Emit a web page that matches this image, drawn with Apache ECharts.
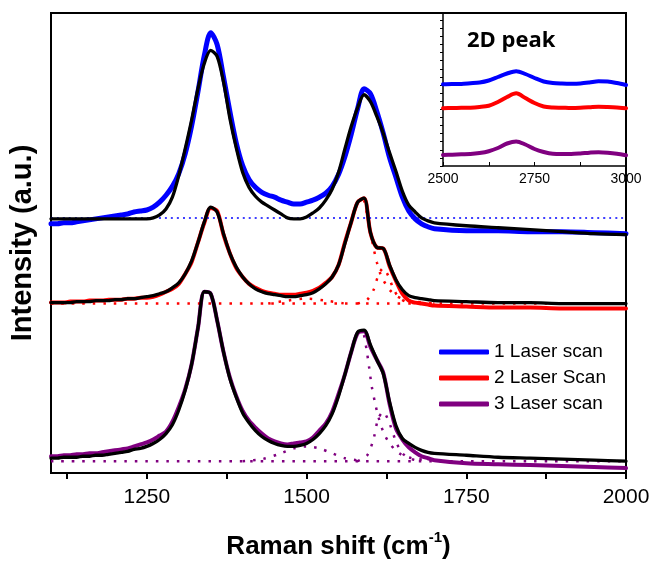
<!DOCTYPE html>
<html>
<head>
<meta charset="utf-8">
<script src="https://cdn.jsdelivr.net/npm/echarts@6/dist/echarts.min.js"></script>
<style>
html,body{margin:0;padding:0;background:#fff;}
#c{width:655px;height:565px;}
</style>
</head>
<body>
<div id="c"></div>
<script>
// ---------- main panel data (Raman shift, cm-1) ----------
const xMain = [1100,1110,1120,1130,1140,1150,1160,1170,1180,1190,
1200,1210,1220,1230,1240,1250,1260,1270,1280,1290,
1300,1310,1320,1330,1340,1350,1360,1370,1380,1390,
1400,1410,1420,1430,1440,1450,1460,1470,1480,1490,
1500,1510,1520,1530,1540,1550,1560,1570,1580,1590,
1600,1610,1620,1630,1640,1650,1660,1670,1680,1690,
1700,1750,1800,1850,1900,1950,2000];

const blueScan = [253,253,254,254,255,256,257,258,259,260,
261,262,263,265,266,267,270,275,282,291,
304,324,352,387,424,447,435,402,367,335,
312,298,290,285,282,280,277,275,273,273,
275,277,280,284,291,303,321,344,370,390,
385,367,345,320,300,280,266,258,253,250,
248,246,246,245,245,244,243];
const blueFit = [258,258,258,258,258,258,258,258,258,258,
258,258,258,258,258,258,259,262,268,280,
302,329,358,390,416,429,423,397,360,330,
305,290,281,275,271,267,263,259,258,258,
260,264,269,277,288,305,329,352,371,384,
377,362,345,325,306,286,272,265,259,256,
254,251,249,247,245,243,242];
const blueBaseX = [1100,2000];
const blueBaseY = [259,259];

const redScan = [173,173,173,174,174,174,175,175,175,176,
176,176,177,177,178,178,179,181,184,187,
192,202,214,234,254,269,266,242,223,208,
199,192,188,185,183,182,181,181,181,182,
183,185,188,193,199,211,234,255,275,279,
244,229,228,210,195,182,175,173,172,171,
170,169,168,168,167,167,167];
const redFit = [173,173,173,173,174,174,174,175,175,175,
176,176,177,177,178,179,180,182,184,188,
193,202,215,234,255,270,265,243,223,209,
199,192,187,184,182,181,180,179,179,180,
181,183,187,192,199,211,233,255,275,279,
244,229,228,211,196,186,180,178,177,176,
175,174,173,173,172,172,172];
const redBaseX = [1100,2000];
const redBaseY = [172,172];
const redD3X = [1440,1470,1500,1530,1560];
const redD3Y = [172,175,177,175,172];
const redGX = [1590,1595,1600,1605,1610,1615,1620,1630,1640,1650,1670,1700];
const redGY = [277,262,245,228,214,203,196,186,180,177,174,172];
const redD2X = [1580,1595,1605,1612,1620,1628,1636,1645,1660,1700];
const redD2Y = [172,176,186,200,208,200,187,178,173,172];

const purpleScan = [17,17,18,18,19,19,20,20,21,22,
23,24,25,27,29,31,34,38,42,52,
67,85,110,147,184,182,155,123,97,78,
63,53,46,40,35,32,30,29,30,31,
32,36,43,50,62,80,100,123,142,144,
128,115,102,70,45,34,26,21,17,15,
13,10,9,8,7,6,5];
const purpleFit = [15,15,16,16,16,17,17,18,18,19,
20,21,22,24,25,27,30,34,40,49,
64,84,110,147,184,182,155,123,96,77,
61,51,43,37,33,30,28,27,27,28,
30,34,40,48,60,78,100,123,143,145,
130,115,101,72,48,35,30,26,23,21,
20,18,16,15,14,13,12];
const purpleBaseX = [1100,2000];
const purpleBaseY = [12,12];
const purpleD3X = [1400,1430,1460,1480,1500,1520,1540,1560,1590];
const purpleD3Y = [12,14,20,25,27,25,20,15,12];
const purpleGX = [1590,1594,1598,1602,1607,1612,1620,1630,1645,1665,1700];
const purpleGY = [140,125,107,88,72,58,42,30,20,15,13];
const purpleD2X = [1580,1595,1605,1612,1620,1630,1640,1650,1665,1680];
const purpleD2Y = [12,18,35,55,62,50,32,20,14,12];

// ---------- inset (2D peak) data ----------
const xInset = [2500,2525,2550,2575,2600,2625,2650,2675,2700,2725,2750,2775,2800,2825,2850,2875,2900,2925,2950,2975,3000];
const blueInset = [81.7,82,82,82.7,83.5,85.5,89,92.5,94.8,92,88,84.5,83,82.5,82.3,82.5,83.5,84.8,84.5,83,81];
const redInset = [57.7,58,58.2,58.3,59,60.3,64,69,72.7,68,63,59.5,58.5,58.3,58,58.2,58.7,59.3,59,58.5,57.7];
const purpleInset = [11,11.3,11.7,12,13,14.8,18,22.5,24.5,21.5,17,14,12.2,12,12,12.5,13.3,13.8,13.3,12.3,10.7];

// ---------- labels ----------
const seriesNames = ['1 Laser scan','2 Laser Scan','3 Laser scan'];
const mainTickValues = [1125,1250,1375,1500,1625,1750,1875,2000];
const mainLabelValues = [1250,1500,1750,2000];
const insetTickValues = [2500,2625,2750,2875,3000];
const insetLabelValues = [2500,2750,3000];

const BLUE = '#0000ff', RED = '#ff0000', PURPLE = '#800080';

function pairs(xs, ys){ return xs.map((x,i)=>[x, ys[i]]); }

function line(data, color, width, opts){
  return Object.assign({
    type:'line', data:data, symbol:'none', smooth:0.3,
    lineStyle:{color:color, width:width, cap:'round', join:'round'},
    itemStyle:{color:color},
    xAxisIndex:0, yAxisIndex:0, silent:true
  }, opts||{});
}
function dotted(data, color, dash, width){
  return line(data, color, width||2.5, {lineStyle:{color:color, width:width||2.5, type:dash||[2.5,8], cap:'butt'}});
}

const chart = echarts.init(document.getElementById('c'), null, {renderer:'canvas'});
const FONT = "'Liberation Sans', Arial, sans-serif";
const plain = v => String(v);

const option = {
  animation:false,
  backgroundColor:'#fff',
  grid:[
    {left:51, top:13, right:29, bottom:85, show:true, borderColor:'#000', borderWidth:2, containLabel:false},
    {left:443, top:13, width:183, height:153, show:false}
  ],
  xAxis:[
    {type:'value', gridIndex:0, min:1100, max:2000,
      axisLine:{show:true, lineStyle:{color:'#000', width:2}},
      axisTick:{show:true, customValues:mainTickValues, length:6, lineStyle:{color:'#000', width:2}},
      axisLabel:{show:true, customValues:mainLabelValues, formatter:plain, color:'#000', fontSize:21, fontFamily:FONT, margin:14},
      splitLine:{show:false},
      name:'{a|Raman shift (cm}{s|-1}{a|)}', nameLocation:'middle', nameGap:57,
      nameTextStyle:{rich:{
        a:{fontSize:26, fontWeight:'bold', fontFamily:FONT, color:'#000', lineHeight:30, verticalAlign:'bottom'},
        s:{fontSize:15, fontWeight:'bold', fontFamily:FONT, color:'#000', lineHeight:30, verticalAlign:'top'}
      }}
    },
    {type:'value', gridIndex:1, min:2500, max:3000,
      axisLine:{show:true, lineStyle:{color:'#000', width:1.5}},
      axisTick:{show:true, inside:true, customValues:insetTickValues, length:4, lineStyle:{color:'#000', width:1}},
      axisLabel:{show:true, customValues:insetLabelValues, formatter:plain, color:'#000', fontSize:14, fontFamily:FONT, margin:6},
      splitLine:{show:false}
    }
  ],
  yAxis:[
    {type:'value', gridIndex:0, min:0, max:467,
      axisLine:{show:true, lineStyle:{color:'#000', width:2}},
      axisTick:{show:false}, axisLabel:{show:false}, splitLine:{show:false},
      name:'Intensity (a.u.)', nameLocation:'middle', nameGap:14, nameRotate:90,
      nameTextStyle:{fontSize:29, fontWeight:'bold', fontFamily:FONT, color:'#000'}
    },
    {type:'value', gridIndex:1, min:0, max:153, interval:8.1,
      axisLine:{show:true, lineStyle:{color:'#000', width:1.5}},
      axisTick:{show:true, length:3, lineStyle:{color:'#000', width:1}},
      axisLabel:{show:false}, splitLine:{show:false}
    }
  ],
  legend:{
    data:seriesNames, orient:'vertical', left:439, top:342, padding:0,
    icon:'roundRect', itemWidth:50, itemHeight:5, itemGap:6,
    textStyle:{fontSize:19, fontFamily:FONT, color:'#000', lineHeight:20}
  },
  graphic:[
    {type:'text', left:467, top:30, style:{text:'2D peak', font:"bold 22px 'Open Sans', 'Noto Sans', sans-serif", fill:'#000'}}
  ],
  series:[
    line(pairs(xMain, blueScan), BLUE, 5, {name:seriesNames[0]}),
    line(pairs(xMain, redScan), RED, 4, {name:seriesNames[1]}),
    line(pairs(xMain, purpleScan), PURPLE, 4, {name:seriesNames[2]}),

    dotted(pairs(blueBaseX, blueBaseY), BLUE, [2,4], 1.5),
    dotted(pairs(redBaseX, redBaseY), RED),
    dotted(pairs(redD3X, redD3Y), RED),
    dotted(pairs(redGX, redGY), RED),
    dotted(pairs(redD2X, redD2Y), RED),
    dotted(pairs(purpleBaseX, purpleBaseY), PURPLE),
    dotted(pairs(purpleD3X, purpleD3Y), PURPLE),
    dotted(pairs(purpleGX, purpleGY), PURPLE),
    dotted(pairs(purpleD2X, purpleD2Y), PURPLE),

    line(pairs(xMain, blueFit), '#000', 3.3),
    line(pairs(xMain, redFit), '#000', 3.3),
    line(pairs(xMain, purpleFit), '#000', 3.3),

    line(pairs(xInset, blueInset), BLUE, 4, {xAxisIndex:1, yAxisIndex:1}),
    line(pairs(xInset, redInset), RED, 4, {xAxisIndex:1, yAxisIndex:1}),
    line(pairs(xInset, purpleInset), PURPLE, 4, {xAxisIndex:1, yAxisIndex:1})
  ]
};
chart.setOption(option);
</script>
</body>
</html>
